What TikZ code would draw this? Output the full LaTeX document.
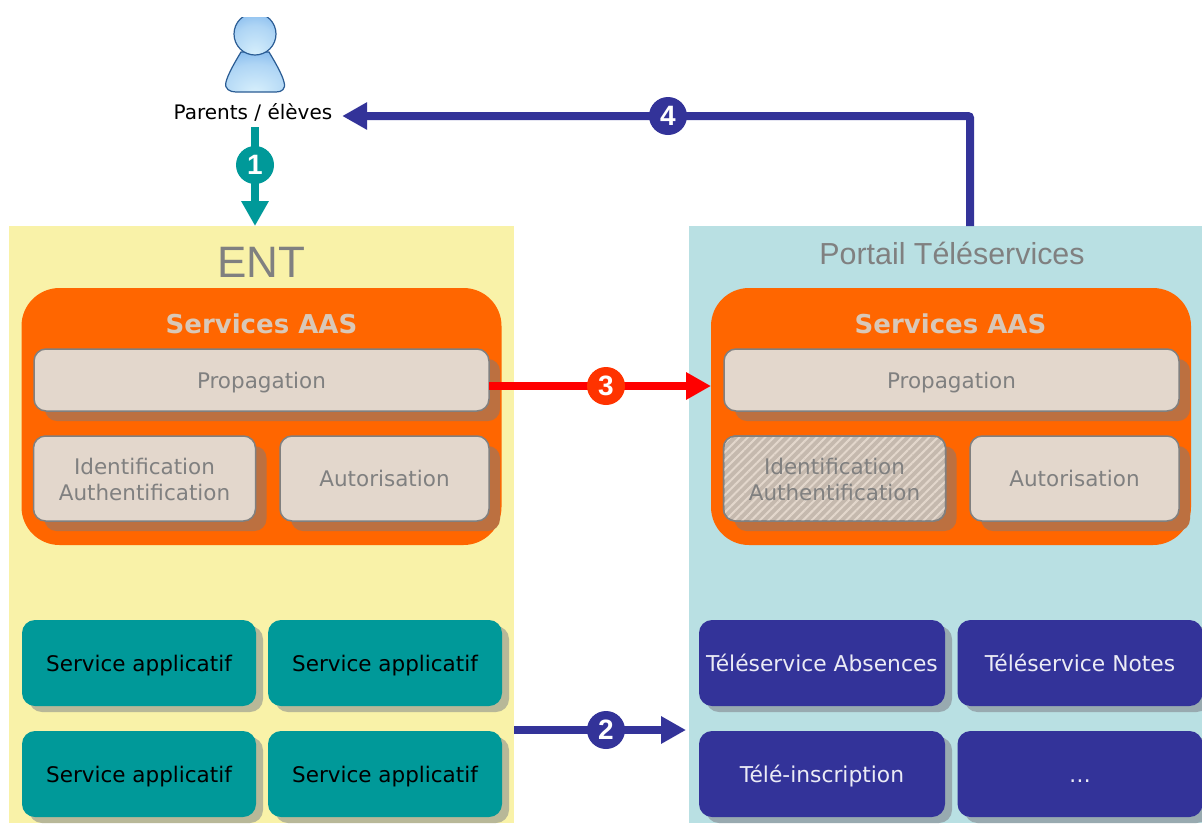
\documentclass[tikz,border=0pt]{standalone}
\usepackage{fontspec}
\setmainfont{DejaVu Sans}
\newfontfamily\arialf{Liberation Sans}
\usetikzlibrary{arrows.meta,shadows,patterns.meta,calc}
\definecolor{entbg}{HTML}{F9F2A8}
\definecolor{portbg}{HTML}{B9E0E3}
\definecolor{aasor}{HTML}{FF6600}
\definecolor{beige}{HTML}{E3D7CC}
\definecolor{beigedk}{HTML}{C5B9AE}
\definecolor{shor}{HTML}{BC7040}
\definecolor{teal1}{HTML}{009999}
\definecolor{navy1}{HTML}{333399}
\definecolor{shteal}{HTML}{B8B898}
\definecolor{shnavy}{HTML}{98AAB0}
\definecolor{gtext}{HTML}{808080}
\definecolor{titlec}{HTML}{D9C8B8}
\definecolor{redc}{HTML}{FF0000}
\definecolor{redn}{HTML}{FF3300}
\definecolor{persond}{HTML}{2A5C94}
\definecolor{persont}{HTML}{4F97E4}
\definecolor{personb}{HTML}{D8F0FC}
\pgfdeclareradialshading{glossy}{\pgfpoint{0bp}{-26bp}}{color(0bp)=(personb); color(28bp)=(personb!70!persont); color(62bp)=(persont); color(90bp)=(persont!70!persond)}
\tikzset{
 panel/.style={inner sep=0pt,outer sep=0pt},
 aas/.style={fill=aasor,rounded corners=38pt,minimum width=480pt,minimum height=257pt,inner sep=0pt,outer sep=0pt},
 aastitle/.style={inner sep=0pt,text=titlec,font=\bfseries\fontsize{26}{30}\selectfont},
 inner/.style={fill=beige,draw=gtext,line width=1.5pt,rounded corners=12pt,inner sep=0pt,outer sep=0pt,
   align=center,text=gtext,font=\fontsize{21.5}{26}\selectfont,
   general shadow={shadow xshift=11pt,shadow yshift=-10pt,fill=shor}},
 onel/.style={text height=18pt,text depth=2pt},
 hatched/.style={fill=beigedk,postaction={pattern={Lines[angle=45,distance=6.1pt,line width=2pt]},pattern color=beige},
   postaction={draw=gtext,line width=1.5pt}},
 svc/.style={rounded corners=13pt,inner sep=0pt,outer sep=0pt,align=center,onel},
 svct/.style={svc,fill=teal1,text=black,font=\fontsize{21.5}{26}\selectfont,general shadow={shadow xshift=7pt,shadow yshift=-6pt,fill=shteal}},
 svcn/.style={svc,fill=navy1,text=white!90!navy1,font=\fontsize{21.8}{26}\selectfont,general shadow={shadow xshift=7pt,shadow yshift=-6pt,fill=shnavy}},
 num/.style={circle,inner sep=0pt,minimum size=38pt,text=white,font=\arialf\bfseries\fontsize{28}{30}\selectfont},
 conn/.style={line width=8pt,-{Triangle[width=26pt,length=25pt]}},
 persona/.style={draw=persond,line width=1.2pt,shading=glossy},
}
\begin{document}
\begin{tikzpicture}[x=1pt,y=-1pt]
\useasboundingbox (0,0) rectangle (1202,823);
% panels
\fill[white] (0,0) rectangle (1202,823);
\node[panel,fill=entbg,minimum width=505pt,minimum height=597pt] (ent) at (261.5,524.5) {};
\node[panel,fill=portbg,minimum width=513pt,minimum height=597pt] (port) at (945.5,524.5) {};
\node[inner sep=0pt,text=gtext,font=\arialf\fontsize{44}{48}\selectfont] (entt) at (261,262) {ENT};
\node[inner sep=0pt,text=gtext,font=\arialf\fontsize{30.4}{34}\selectfont] (portt) at (952,253) {Portail Téléservices};
% AAS
\node[aas] (aasL) at (261.5,416.5) {};
\node[aas] (aasR) at (951,416.5) {};
\node[aastitle] (aasLt) at (261.5,324) {Services AAS};
\node[aastitle] (aasRt) at (950.5,324) {Services AAS};
\node[inner,onel,minimum width=455pt,minimum height=62pt] (propL) at (261.5,380) {Propagation};
\node[inner,onel,minimum width=455pt,minimum height=62pt] (propR) at (951.5,380) {Propagation};
\node[inner,minimum width=222pt,minimum height=85pt] (idL) at (144.5,478.5) {\rule{0pt}{18.7pt}Identification\\Authentification};
\node[inner,onel,minimum width=209pt,minimum height=85pt] (autL) at (384.5,478.5) {Autorisation};
\node[inner,hatched,minimum width=222pt,minimum height=85pt] (idR) at (834.5,478.5) {\rule{0pt}{18.7pt}Identification\\Authentification};
\node[inner,onel,minimum width=209pt,minimum height=85pt] (autR) at (1074.5,478.5) {Autorisation};
% services
\node[svct,minimum width=234pt,minimum height=86pt] (s1) at (139,663) {Service applicatif};
\node[svct,minimum width=234pt,minimum height=86pt] (s2) at (385,663) {Service applicatif};
\node[svct,minimum width=234pt,minimum height=86pt] (s3) at (139,774) {Service applicatif};
\node[svct,minimum width=234pt,minimum height=86pt] (s4) at (385,774) {Service applicatif};
\node[svcn,minimum width=246pt,minimum height=86pt] (t1) at (822,663) {Téléservice Absences};
\node[svcn,minimum width=245pt,minimum height=86pt] (t2) at (1080,663) {Téléservice Notes};
\node[svcn,minimum width=246pt,minimum height=86pt] (t3) at (822,774) {Télé-inscription};
\node[svcn,minimum width=245pt,minimum height=86pt] (t4) at (1080,774) {…};
% person
\begin{scope}
\clip (215,17) rectangle (295,95);
\draw[persona]
 (241,52) .. controls (235,62) and (228,74) .. (226,82) .. controls (224,89) and (230,92) .. (236,92)
 -- (276,92) .. controls (282,92) and (286,89) .. (284,82) .. controls (282,74) and (275,62) .. (269,52) -- cycle;
\draw[persona] (255,34) circle[radius=21];
\end{scope}
\node[inner sep=0pt,minimum width=178pt,minimum height=30pt,text=black,font=\fontsize{20}{24}\selectfont] (parents) at (253,112) {Parents / élèves};
% connectors
\coordinate (a1s) at ([xshift=2pt]parents.south);
\draw[conn,teal1] (a1s) -- (a1s |- ent.north);
\coordinate (a4s) at ([xshift=24.5pt]port.north);
\coordinate (a4e) at ([yshift=-4pt]parents.east);
\draw[conn,navy1,rounded corners=2pt] (a4s) -- (a4s |- a4e) -- (a4e);
\coordinate (a3s) at ([yshift=-6pt]propL.east);
\draw[conn,redc] (a3s) -- (a3s -| aasR.west);
\coordinate (a2s) at ([yshift=-205.5pt]ent.east);
\coordinate (a2e) at ([xshift=-3pt]a2s -| port.west);
\draw[conn,navy1] (a2s) -- (a2e);
% numbers
\node[num,fill=teal1] (n1) at (255,165) {1};
\node[num,fill=navy1] (n2) at (606,730) {2};
\node[num,fill=redn] (n3) at (606,386) {3};
\node[num,fill=navy1] (n4) at (668,116) {4};
\end{tikzpicture}
\end{document}
